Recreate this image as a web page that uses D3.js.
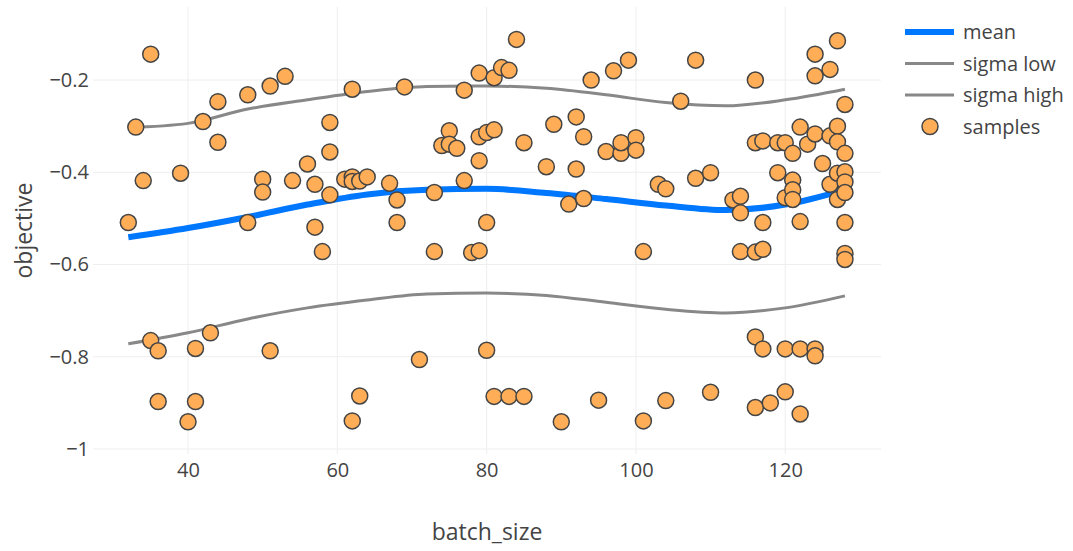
<!DOCTYPE html>
<html>
  <head>
    <meta charset="utf-8" />
    <title>objective vs batch_size</title>
    <style>
      body {
        margin: 0;
        background: #fff;
        font-family: "Open Sans", sans-serif;
      }
      .grid line {
        stroke: #eee;
        stroke-width: 1;
      }
      .tick text {
        fill: #444;
        font-size: 20px;
      }
      .title {
        fill: #444;
        font-size: 23px;
      }
      .legend text {
        fill: #444;
        font-size: 20px;
      }
    </style>
    <script src="https://d3js.org/d3.v7.min.js" charset="utf-8"></script>
  </head>
  <body>
    <script>
      const width = 1073,
        height = 551;
      const plot = { left: 93, right: 881, top: 7, bottom: 454 };

      // model curves, read every 8 units of batch_size
      const gridX = [32, 40, 48, 56, 64, 72, 80, 88, 96, 104, 112, 120, 128];
      const meanY = [-0.541, -0.521, -0.497, -0.47, -0.448, -0.438, -0.436, -0.445, -0.458, -0.472, -0.482, -0.47, -0.438];
      const sigmaLowY = [-0.772, -0.748, -0.718, -0.694, -0.677, -0.664, -0.662, -0.667, -0.682, -0.697, -0.705, -0.694, -0.668];
      const sigmaHighY = [-0.303, -0.294, -0.263, -0.243, -0.225, -0.214, -0.213, -0.218, -0.232, -0.249, -0.256, -0.243, -0.22];

      // observed samples [batch_size, objective]
      const samples = [
        [35, -0.144], [33, -0.302], [32, -0.509], [34, -0.418], [39, -0.402],
        [42, -0.29], [44, -0.247], [44, -0.335], [48, -0.232], [51, -0.213],
        [53, -0.192], [50, -0.415], [50, -0.443], [54, -0.418], [48, -0.509],
        [35, -0.765], [36, -0.787], [41, -0.782], [43, -0.748], [51, -0.787],
        [36, -0.897], [41, -0.897], [40, -0.941],
        [56, -0.382], [57, -0.426], [57, -0.519], [58, -0.572], [59, -0.292],
        [59, -0.356], [59, -0.449], [61, -0.415], [62, -0.41], [62, -0.42],
        [63, -0.419], [64, -0.41], [62, -0.22], [67, -0.424], [68, -0.46],
        [68, -0.509], [69, -0.215], [73, -0.444], [73, -0.572], [74, -0.342],
        [75, -0.31], [75, -0.339], [76, -0.348], [77, -0.222], [77, -0.418],
        [78, -0.574], [79, -0.57], [79, -0.375], [79, -0.323], [79, -0.185],
        [80, -0.509], [80, -0.314], [81, -0.308], [81, -0.195], [82, -0.173],
        [83, -0.179], [84, -0.112], [85, -0.336],
        [62, -0.939], [63, -0.885], [71, -0.806], [80, -0.786], [81, -0.886],
        [83, -0.886], [85, -0.886],
        [88, -0.388], [89, -0.296], [90, -0.941], [91, -0.469], [92, -0.28],
        [92, -0.393], [93, -0.323], [93, -0.457], [94, -0.2], [95, -0.894],
        [96, -0.355], [97, -0.18], [98, -0.359], [98, -0.336], [99, -0.157],
        [100, -0.325], [100, -0.352], [101, -0.572], [101, -0.939], [103, -0.426],
        [104, -0.436], [104, -0.895], [106, -0.246], [108, -0.157], [108, -0.413],
        [110, -0.401], [110, -0.877], [113, -0.46], [114, -0.452], [114, -0.488],
        [114, -0.572], [116, -0.2], [116, -0.336], [116, -0.573], [116, -0.757],
        [116, -0.91], [117, -0.332], [117, -0.509], [117, -0.567], [117, -0.783],
        [118, -0.9], [119, -0.336], [119, -0.401], [120, -0.336], [120, -0.455],
        [120, -0.783], [120, -0.876], [121, -0.359], [121, -0.417], [121, -0.438],
        [121, -0.459], [122, -0.302], [122, -0.507], [122, -0.783], [122, -0.924],
        [123, -0.339], [124, -0.144], [124, -0.191], [124, -0.317], [124, -0.783],
        [124, -0.798], [125, -0.381], [126, -0.177], [126, -0.321], [126, -0.426],
        [127, -0.115], [127, -0.3], [127, -0.334], [127, -0.402], [127, -0.459],
        [128, -0.253], [128, -0.359], [128, -0.399], [128, -0.421], [128, -0.444],
        [128, -0.509], [128, -0.576], [128, -0.589],
      ];

      const xTicks = [40, 60, 80, 100, 120];
      const yTicks = [-1, -0.8, -0.6, -0.4, -0.2];
      const legendItems = ["mean", "sigma low", "sigma high", "samples"];

      const x = d3.scaleLinear().domain([27.27, 132.83]).range([plot.left, plot.right]);
      const y = d3.scaleLinear().domain([-1.0108, -0.0417]).range([plot.bottom, plot.top]);

      const svg = d3
        .select("body")
        .append("svg")
        .attr("width", width)
        .attr("height", height);

      // grid
      const grid = svg.append("g").attr("class", "grid");

      grid
        .selectAll("line.v")
        .data(xTicks)
        .join("line")
        .attr("class", "v")
        .attr("x1", (d) => x(d))
        .attr("x2", (d) => x(d))
        .attr("y1", plot.top)
        .attr("y2", plot.bottom);

      grid
        .selectAll("line.h")
        .data(yTicks)
        .join("line")
        .attr("class", "h")
        .attr("x1", plot.left)
        .attr("x2", plot.right)
        .attr("y1", (d) => y(d))
        .attr("y2", (d) => y(d));

      // axes
      const xAxis = svg
        .append("g")
        .attr("transform", "translate(0," + plot.bottom + ")")
        .call(d3.axisBottom(x).tickValues(xTicks).tickSize(0).tickPadding(9));
      xAxis.select(".domain").remove();

      const yAxis = svg
        .append("g")
        .attr("transform", "translate(" + plot.left + ",0)")
        .call(d3.axisLeft(y).tickValues(yTicks).tickSize(0).tickPadding(4).tickFormat(d3.format("~g")));
      yAxis.select(".domain").remove();

      svg.selectAll("g").attr("font-family", null).attr("font-size", null);

      svg
        .append("text")
        .attr("class", "title")
        .attr("x", (plot.left + plot.right) / 2)
        .attr("y", 540)
        .attr("text-anchor", "middle")
        .text("batch_size");

      svg
        .append("text")
        .attr("class", "title")
        .attr("transform", "translate(32," + (plot.top + plot.bottom) / 2 + ")rotate(-90)")
        .attr("text-anchor", "middle")
        .text("objective");

      // curves
      const line = d3
        .line()
        .x((d) => x(d[0]))
        .y((d) => y(d[1]))
        .curve(d3.curveMonotoneX);

      function curve(values, color, w) {
        svg
          .append("path")
          .datum(gridX.map((gx, i) => [gx, values[i]]))
          .attr("d", line)
          .attr("fill", "none")
          .attr("stroke", color)
          .attr("stroke-width", w);
      }

      curve(meanY, "#0077ff", 6);
      curve(sigmaLowY, "#888", 3);
      curve(sigmaHighY, "#888", 3);

      // samples
      svg
        .append("g")
        .selectAll("circle")
        .data(samples)
        .join("circle")
        .attr("cx", (d) => x(d[0]))
        .attr("cy", (d) => y(d[1]))
        .attr("r", 8)
        .attr("fill", "#ffae57")
        .attr("stroke", "#444")
        .attr("stroke-width", 1.5);

      // legend
      const legend = svg
        .append("g")
        .attr("class", "legend")
        .attr("transform", "translate(905,32)");

      const item = legend
        .selectAll("g")
        .data(legendItems)
        .join("g")
        .attr("transform", (d, i) => "translate(0," + i * 31.5 + ")");

      item
        .filter((d) => d !== "samples")
        .append("line")
        .attr("x1", 0)
        .attr("x2", 49)
        .attr("stroke", (d) => (d === "mean" ? "#0077ff" : "#888"))
        .attr("stroke-width", (d) => (d === "mean" ? 6 : 3));

      item
        .filter((d) => d === "samples")
        .append("circle")
        .attr("cx", 25)
        .attr("r", 8)
        .attr("fill", "#ffae57")
        .attr("stroke", "#444")
        .attr("stroke-width", 1.5);

      item
        .append("text")
        .attr("x", 58)
        .attr("dy", "0.35em")
        .text((d) => d);
    </script>
  </body>
</html>
